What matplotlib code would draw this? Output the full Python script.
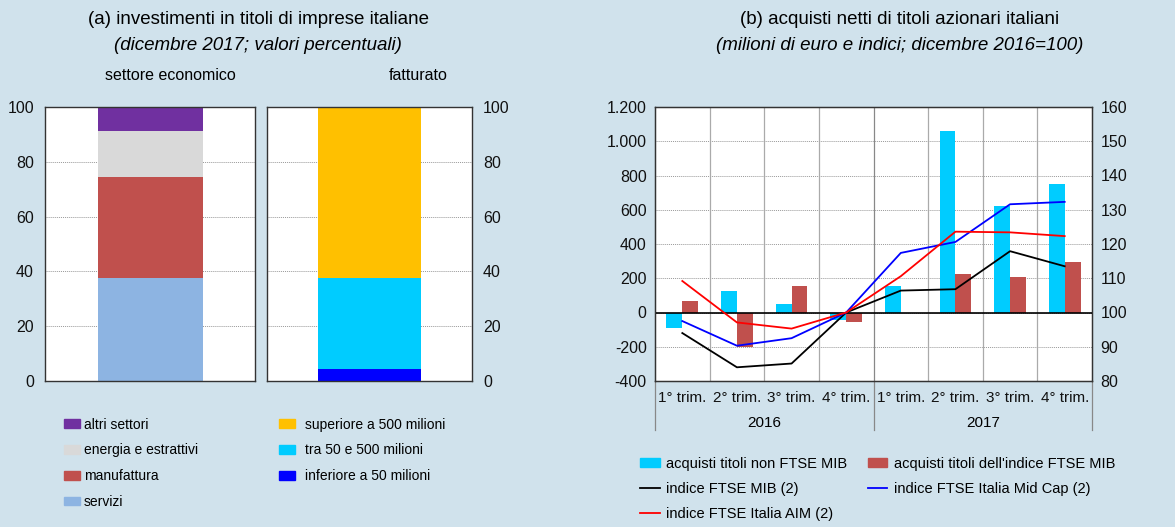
import numpy as np
import matplotlib.pyplot as plt
import matplotlib.transforms as mtransforms
from matplotlib.patches import Patch
from matplotlib.lines import Line2D

plt.rcParams['font.family'] = ['Liberation Sans', 'DejaVu Sans']

# panel (a) data
settore_labels = ['servizi', 'manufattura', 'energia e estrattivi', 'altri settori']
settore_values = [37.5, 36.8, 16.9, 8.8]
settore_colors = ['#8DB4E2', '#C0504D', '#D9D9D9', '#7030A0']

fatturato_labels = ['inferiore a 50 milioni', 'tra 50 e 500 milioni', 'superiore a 500 milioni']
fatturato_values = [4.5, 33.2, 62.3]
fatturato_colors = ['#0000FF', '#00CCFF', '#FFC000']

# panel (b) data
quarters = ['1° trim.', '2° trim.', '3° trim.', '4° trim.'] * 2
years = ['2016', '2017']
non_ftse = [-90, 128, 50, -45, 154, 1060, 622, 748]
ftse_mib_buy = [70, -200, 152, -58, 0, 226, 207, 294]
idx_mib = [94.0, 84.0, 85.1, 100, 106.4, 106.8, 117.9, 113.5]
idx_midcap = [97.5, 90.3, 92.5, 100, 117.4, 120.6, 131.6, 132.3]
idx_aim = [109.2, 97.1, 95.3, 100, 110.6, 123.6, 123.4, 122.3]

bg = '#D0E2EC'
W, H = 1175, 527
fig = plt.figure(figsize=(W / 100, H / 100), dpi=100, facecolor=bg)


def box(x0, y0, x1, y1):
    # pixel box (top-left origin) -> figure fraction rect
    return [x0 / W, 1 - y1 / H, (x1 - x0) / W, (y1 - y0) / H]


def style_axes(ax):
    ax.set_facecolor('white')
    for s in ax.spines.values():
        s.set_color('#333333')
        s.set_linewidth(1.0)
    ax.tick_params(length=0, labelsize=11.5, colors='#111111')
    ax.grid(axis='y', color='#999999', linestyle=(0, (1, 1)), linewidth=0.7)
    ax.set_axisbelow(True)


# ---- panel (a)
ax1 = fig.add_axes(box(45, 107, 255, 381))
ax2 = fig.add_axes(box(267, 107, 472, 381))
for ax, vals, cols in [(ax1, settore_values, settore_colors),
                       (ax2, fatturato_values, fatturato_colors)]:
    style_axes(ax)
    bottom = 0
    for v, c in zip(vals, cols):
        ax.bar(0, v, width=1.0, bottom=bottom, color=c, zorder=2)
        bottom += v
    ax.set_xlim(-1, 1)
    ax.set_ylim(0, 100)
    ax.set_yticks(np.arange(0, 101, 20))
    ax.set_xticks([])
ax1.tick_params(axis='y', pad=8)
ax2.yaxis.tick_right()
ax2.tick_params(axis='y', pad=8)

fig.text(258 / W, 1 - 20 / H, '(a) investimenti in titoli di imprese italiane',
         ha='center', va='center', fontsize=13.5)
fig.text(258 / W, 1 - 46 / H, '(dicembre 2017; valori percentuali)',
         ha='center', va='center', fontsize=13.5, style='italic')
fig.text(170 / W, 1 - 75 / H, 'settore economico', ha='center', va='center', fontsize=11.5)
fig.text(418 / W, 1 - 75 / H, 'fatturato', ha='center', va='center', fontsize=11.5)

h_set = [Patch(color=c) for c in settore_colors[::-1]]
fig.legend(h_set, settore_labels[::-1], loc='upper left',
           bbox_to_anchor=(58 / W, 1 - 412 / H), frameon=False, fontsize=10,
           handlelength=1.2, handleheight=0.6, handletextpad=0.25, labelspacing=0.85,
           borderaxespad=0)
h_fat = [Patch(color=c) for c in fatturato_colors[::-1]]
fig.legend(h_fat, fatturato_labels[::-1], loc='upper left',
           bbox_to_anchor=(273 / W, 1 - 412 / H), frameon=False, fontsize=10,
           handlelength=1.2, handleheight=0.6, handletextpad=0.7, labelspacing=0.85,
           borderaxespad=0)

# ---- panel (b)
ax3 = fig.add_axes(box(655, 107, 1092, 381))
style_axes(ax3)
x = np.arange(len(quarters))
bw = 0.29
ax3.bar(x - bw / 2, non_ftse, width=bw, color='#00CCFF', zorder=2)
ax3.bar(x + bw / 2, ftse_mib_buy, width=bw, color='#C0504D', zorder=2)
ax3.axhline(0, color='black', linewidth=1.2, zorder=3)
ax3.set_xlim(-0.5, len(quarters) - 0.5)
ax3.set_ylim(-400, 1200)
yt = np.arange(-400, 1201, 200)
ax3.set_yticks(yt)
ax3.set_yticklabels([f'{v:,}'.replace(',', '.') for v in yt])
ax3.tick_params(axis='y', pad=6)
ax3.set_xticks(x)
ax3.set_xticklabels(quarters, fontsize=11)
ax3.tick_params(axis='x', pad=7)
for b in np.arange(0.5, len(quarters) - 0.5, 1):
    ax3.axvline(b, color='#888888' if b == 3.5 else '#aaaaaa', linewidth=0.9, zorder=1)

ax4 = ax3.twinx()
ax4.plot(x, idx_mib, color='black', linewidth=1.3, zorder=4)
ax4.plot(x, idx_midcap, color='#0000FF', linewidth=1.3, zorder=4)
ax4.plot(x, idx_aim, color='#FF0000', linewidth=1.3, zorder=4)
ax4.set_ylim(80, 160)
ax4.set_yticks(np.arange(80, 161, 10))
ax4.tick_params(length=0, labelsize=11.5, colors='#111111', pad=6)
for s in ax4.spines.values():
    s.set_color('#333333')

trans = mtransforms.blended_transform_factory(ax3.transData, ax3.transAxes)
for sx in [-0.5, 3.5, 7.5]:
    ax3.plot([sx, sx], [0, -0.18], transform=trans, color='#888888',
             linewidth=0.9, clip_on=False)
for i, yr in enumerate(years):
    ax3.text(1.5 + 4 * i, -0.155, yr, transform=trans, ha='center', va='center', fontsize=11)

fig.text(900 / W, 1 - 20 / H, '(b) acquisti netti di titoli azionari italiani',
         ha='center', va='center', fontsize=13.5)
fig.text(900 / W, 1 - 46 / H, '(milioni di euro e indici; dicembre 2016=100)',
         ha='center', va='center', fontsize=13.5, style='italic')

h_b = [Patch(color='#00CCFF'), Patch(color='#C0504D'),
       Line2D([], [], color='black', lw=1.3), Line2D([], [], color='#0000FF', lw=1.3),
       Line2D([], [], color='#FF0000', lw=1.3)]
l_b = ['acquisti titoli non FTSE MIB', "acquisti titoli dell'indice FTSE MIB",
       'indice FTSE MIB (2)', 'indice FTSE Italia Mid Cap (2)', 'indice FTSE Italia AIM (2)']
order = [0, 2, 4, 1, 3]
fig.legend([h_b[i] for i in order], [l_b[i] for i in order], loc='upper left', ncol=2,
           bbox_to_anchor=(634 / W, 1 - 451 / H), frameon=False, fontsize=10.5,
           handlelength=1.35, handleheight=0.6, handletextpad=0.45, labelspacing=0.75,
           columnspacing=1.4, borderaxespad=0)

fig.savefig('out.png', dpi=100, facecolor=bg)
